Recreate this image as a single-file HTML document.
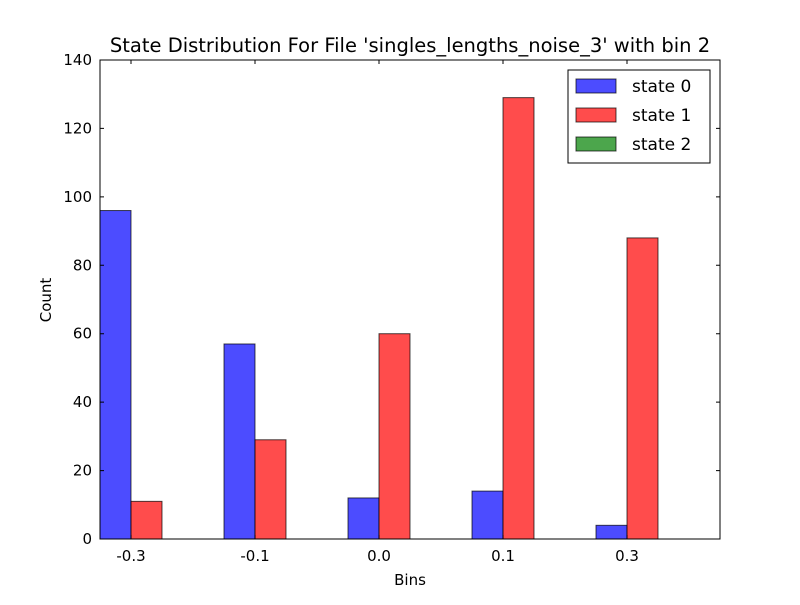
<!DOCTYPE html>
<html><head><meta charset="utf-8"><style>body{margin:0;background:#fff}svg text{font-family:"DejaVu Sans","Liberation Sans",sans-serif}</style></head>
<body>
<svg id="chart" width="800" height="600" xmlns="http://www.w3.org/2000/svg">
<rect width="800" height="600" fill="#fff"/>
<g id="bars"></g>
<rect x="100" y="60" width="620" height="479" fill="none" stroke="#000" stroke-width="1"/>
<g id="axes"></g>
<text x="410" y="52" text-anchor="middle" font-size="19.5">State Distribution For File 'singles_lengths_noise_3' with bin 2</text>
<text x="410" y="585" text-anchor="middle" font-size="15">Bins</text>
<text transform="translate(51,300) rotate(-90)" text-anchor="middle" font-size="15">Count</text>
<g>
<rect x="568" y="70" width="142" height="93" fill="#fff" stroke="#000"/>
<rect x="576" y="79" width="40" height="14" fill="#0000ff" fill-opacity="0.7" stroke="#000" stroke-opacity="0.7"/>
<text x="632" y="92" font-size="17">state 0</text>
<rect x="576" y="108" width="40" height="14" fill="#ff0000" fill-opacity="0.7" stroke="#000" stroke-opacity="0.7"/>
<text x="632" y="121" font-size="17">state 1</text>
<rect x="576" y="137" width="40" height="14" fill="#008000" fill-opacity="0.7" stroke="#000" stroke-opacity="0.7"/>
<text x="632" y="150" font-size="17">state 2</text>
</g>
</svg>
<script>
const categories=["-0.3","-0.1","0.0","0.1","0.3"];
const state0=[96,57,12,14,4];
const state1=[11,29,60,129,88];
const state2=[0,0,0,0,0];
const yTicks=[0,20,40,60,80,100,120,140];
const NS="http://www.w3.org/2000/svg";
const x0=100,x1=720,y0=539,y1=60,yMax=140;
const groupW=(x1-x0)/categories.length, barW=groupW/4;
const yS=v=>y0-(v/yMax)*(y0-y1);
const bars=document.getElementById('bars'), axes=document.getElementById('axes');
const series=[[state0,'#0000ff','state-0'],[state1,'#ff0000','state-1'],[state2,'#008000','state-2']];
series.forEach(([vals,col,nm],s)=>{
 vals.forEach((v,i)=>{
  const r=document.createElementNS(NS,'rect');
  const x=x0+i*groupW+s*barW;
  r.setAttribute('x',x);r.setAttribute('y',yS(v));
  r.setAttribute('width',barW);r.setAttribute('height',Math.max(0,y0-yS(v)));
  r.setAttribute('fill',col);r.setAttribute('fill-opacity','0.7');
  r.setAttribute('stroke','#000');r.setAttribute('stroke-opacity','0.7');
  
  
  bars.appendChild(r);
 });
});
yTicks.forEach(t=>{
 const y=yS(t);
 const l=document.createElementNS(NS,'path');
 l.setAttribute('d',`M${x0} ${y}h4M${x1} ${y}h-4`);l.setAttribute('stroke','#000');
 
 
 axes.appendChild(l);
 const tx=document.createElementNS(NS,'text');
 tx.setAttribute('x',x0-8);tx.setAttribute('y',y+5);tx.setAttribute('text-anchor','end');tx.setAttribute('font-size','15');
 tx.textContent=t;
 
 
 axes.appendChild(tx);
});
categories.forEach((c,i)=>{
 const x=x0+i*groupW+barW;
 const l=document.createElementNS(NS,'path');
 l.setAttribute('d',`M${x} ${y0}v-4M${x} ${y1}v4`);l.setAttribute('stroke','#000');
 
 
 axes.appendChild(l);
 const tx=document.createElementNS(NS,'text');
 tx.setAttribute('x',x);tx.setAttribute('y',y0+22);tx.setAttribute('text-anchor','middle');tx.setAttribute('font-size','15');
 tx.textContent=c;
 
 
 axes.appendChild(tx);
});
</script>
</body></html>
